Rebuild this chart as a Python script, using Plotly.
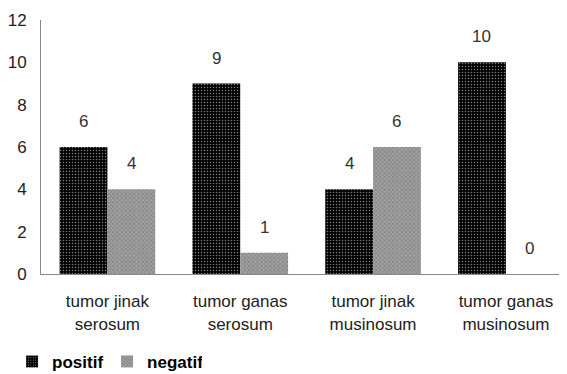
import plotly.graph_objects as go

categories = ["tumor jinak<br>serosum", "tumor ganas<br>serosum", "tumor jinak<br>musinosum", "tumor ganas<br>musinosum"]
positif = [6, 9, 4, 10]
negatif = [4, 1, 6, 0]
y_ticks = [0, 2, 4, 6, 8, 10, 12]

xpos = list(range(len(categories)))
FONT = "Liberation Sans, Arial, sans-serif"

fig = go.Figure()
fig.add_trace(go.Bar(
    x=xpos, y=positif, name="positif",
    marker=dict(color="#000000", line=dict(width=0),
                pattern=dict(shape=".", fgcolor="#ffffff", bgcolor="#000000", size=3, solidity=0.2)),
))
fig.add_trace(go.Bar(
    x=xpos, y=negatif, name="negatif",
    marker=dict(color="#7a7a7a", line=dict(width=0),
                pattern=dict(shape="x", fgcolor="#5a5a5a", bgcolor="#a0a0a0", size=3, solidity=0.4)),
))

off = 0.18
for i, v in enumerate(positif):
    fig.add_annotation(x=i - off, y=v, text=str(v), showarrow=False, yanchor="bottom", yshift=14,
                       font=dict(family=FONT, size=17, color="#333333"))
for i, v in enumerate(negatif):
    fig.add_annotation(x=i + off, y=v, text=str(v), showarrow=False, yanchor="bottom", yshift=14,
                       font=dict(family=FONT, size=17, color="#333333"))

# page body has an 8px margin, so the figure is sized/offset to compensate
fig.update_layout(
    width=559, height=366,
    margin=dict(l=33, r=0, t=12, b=100, autoexpand=False),
    paper_bgcolor="white", plot_bgcolor="white",
    barmode="group", bargap=0.28, bargroupgap=0,
    showlegend=True,
    legend=dict(orientation="h", x=-0.055, xanchor="left", y=-0.346, yanchor="middle",
                font=dict(family=FONT, size=17, color="#000000", weight="bold"),
                entrywidth=50, entrywidthmode="pixels", tracegroupgap=0, bgcolor="rgba(0,0,0,0)"),
    xaxis=dict(range=[-0.5, 3.46], tickmode="array", tickvals=xpos, ticktext=categories,
               showgrid=False, zeroline=False, showline=True, linecolor="#888888", linewidth=1,
               ticks="", ticklabelstandoff=12, automargin=False,
               tickfont=dict(family=FONT, size=17, color="#222222")),
    yaxis=dict(range=[0, 12], tickmode="array", tickvals=y_ticks,
               showgrid=False, zeroline=False, showline=True, linecolor="#888888", linewidth=1,
               ticks="", ticklabelstandoff=10, automargin=False,
               tickfont=dict(family=FONT, size=17, color="#222222")),
)

fig.write_html("out.html")
